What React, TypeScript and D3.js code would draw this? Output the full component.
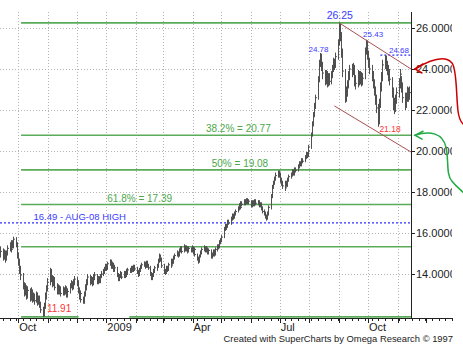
import React from 'react'
import * as d3 from 'd3'

// daily bars, first bar on Fri 2008-09-12, one value per weekday
const firstDay = '2008-09-12'
const lastDay = '2009-11-14'

const highs = [
  15.35,
  15.25, 15.20, 15.15, 15.15, 15.40,
  15.55, 15.50, 15.65, 15.65, 15.82,
  15.80, 15.55, 15.05, 14.75, 14.40,
  14.05, 13.60, 13.55, 13.45, 13.40,
  13.30, 13.35, 13.25, 13.10, 13.05,
  13.15, 13.10, 12.95, 12.95, 12.65,
  12.40, 12.60, 13.10, 13.45, 13.80,
  14.30, 14.25, 13.95, 13.90, 13.85,
  13.50, 13.55, 13.50, 13.45, 13.40,
  13.40, 13.35, 13.45, 13.40, 13.30,
  13.55, 13.70, 13.65, 13.75, 13.90,
  13.85, 13.70, 13.35, 13.20, 13.15,
  12.90, 13.15, 13.50, 13.75, 14.00,
  13.95, 13.90, 13.85, 14.00, 14.10,
  14.00, 13.90, 13.90, 14.00, 14.15,
  14.25, 14.35, 14.50, 14.50, 14.60,
  14.72, 14.70, 14.60, 14.55, 14.45,
  14.35, 14.05, 14.00, 14.15, 14.10,
  14.15, 14.15, 14.25, 14.25, 14.30,
  14.30, 14.40, 14.40, 14.45, 14.45,
  14.35, 14.20, 14.30, 14.45, 14.55,
  14.62, 14.60, 14.65, 14.65, 14.50,
  14.40, 14.10, 14.05, 14.25, 14.40,
  14.50, 14.75, 15.00, 14.95, 14.80,
  14.50, 14.25, 14.40, 14.40, 14.55,
  14.55, 14.75, 14.75, 14.90, 15.00,
  15.15, 15.10, 15.25, 15.35, 15.35,
  15.45, 15.40, 15.40, 15.35, 15.35,
  15.30, 15.40, 15.35, 15.30, 15.25,
  15.00, 14.85, 14.95, 15.15, 15.30,
  15.40, 15.35, 15.35, 15.30, 15.25,
  15.20, 15.05, 15.20, 15.20, 15.30,
  15.45, 15.45, 15.65, 15.75, 15.90,
  16.30, 16.45, 16.45, 16.65, 16.65,
  16.80, 16.95, 16.95, 17.05, 17.15,
  17.30, 17.45, 17.45, 17.55, 17.55,
  17.65, 17.65, 17.70, 17.70, 17.65,
  17.60, 17.60, 17.60, 17.65, 17.65,
  17.60, 17.60, 17.50, 17.50, 17.30,
  17.15, 17.05, 16.90, 17.05, 17.35,
  17.90, 18.35, 18.55, 18.75, 18.95,
  19.05, 19.05, 18.95, 18.70, 18.55,
  18.40, 18.55, 18.55, 18.70, 18.85,
  18.95, 19.10, 19.10, 19.20, 19.20,
  19.35, 19.50, 19.50, 19.65, 19.65,
  19.80, 19.95, 19.95, 20.10, 20.30,
  20.90, 21.45, 21.90, 22.35, 22.75,
  23.65, 24.45, 24.78, 24.75, 24.35,
  23.95, 23.95, 23.90, 23.80, 23.80,
  23.90, 24.20, 24.55, 24.50, 24.80,
  25.45, 26.25, 26.20, 25.80, 25.00,
  24.00, 23.15, 23.45, 23.90, 24.20,
  24.25, 24.30, 24.20, 23.85, 23.70,
  23.95, 23.90, 23.90, 23.85, 23.80,
  25.05, 25.43, 25.40, 24.90, 24.55,
  24.20, 23.90, 23.50, 23.15, 22.75,
  22.30, 22.55, 23.35, 23.85, 24.45,
  24.68, 24.65, 24.40, 24.20, 24.00,
  23.60, 23.10, 22.60, 22.75, 23.10,
  23.55, 24.00, 23.95, 23.65, 23.35,
  22.85, 22.85, 23.15, 23.10, 23.15,
]

const lows = [
  14.80,
  14.65, 14.70, 14.55, 14.65, 14.90,
  15.10, 15.05, 15.10, 15.25, 15.25,
  15.30, 14.75, 14.40, 14.00, 13.70,
  13.25, 12.90, 12.95, 12.75, 12.80,
  12.65, 12.70, 12.60, 12.65, 12.50,
  12.60, 12.45, 12.50, 12.35, 12.10,
  11.91, 11.95, 12.30, 12.75, 13.15,
  13.45, 13.60, 13.35, 13.40, 13.20,
  13.00, 13.05, 13.00, 13.00, 12.90,
  12.95, 12.95, 13.00, 12.85, 12.85,
  13.05, 13.30, 13.20, 13.25, 13.45,
  13.40, 13.05, 12.75, 12.80, 12.60,
  12.55, 12.55, 12.90, 13.20, 13.45,
  13.45, 13.50, 13.40, 13.45, 13.70,
  13.50, 13.50, 13.55, 13.55, 13.80,
  13.90, 14.00, 14.15, 14.15, 14.20,
  14.40, 14.25, 14.25, 14.10, 14.10,
  13.85, 13.65, 13.65, 13.80, 13.75,
  13.80, 13.80, 13.85, 13.90, 13.95,
  14.05, 14.05, 14.10, 14.10, 14.15,
  14.00, 13.85, 13.90, 14.10, 14.25,
  14.35, 14.25, 14.30, 14.30, 14.20,
  13.90, 13.70, 13.70, 13.85, 14.05,
  14.15, 14.30, 14.55, 14.60, 14.30,
  14.00, 13.95, 14.00, 14.10, 14.15,
  14.30, 14.35, 14.45, 14.50, 14.70,
  14.85, 14.80, 14.85, 15.05, 15.00,
  15.05, 15.10, 15.10, 15.00, 15.05,
  15.05, 15.05, 14.95, 15.00, 14.85,
  14.65, 14.50, 14.55, 14.80, 14.95,
  15.10, 15.05, 15.05, 14.95, 14.95,
  14.75, 14.75, 14.85, 14.85, 14.90,
  15.10, 15.20, 15.25, 15.45, 15.55,
  15.75, 16.10, 16.15, 16.25, 16.40,
  16.40, 16.60, 16.65, 16.70, 16.85,
  17.00, 17.10, 17.15, 17.20, 17.30,
  17.35, 17.35, 17.40, 17.40, 17.40,
  17.25, 17.25, 17.30, 17.30, 17.35,
  17.35, 17.25, 17.25, 17.10, 16.95,
  16.85, 16.70, 16.60, 16.65, 16.85,
  17.15, 17.70, 18.15, 18.35, 18.55,
  18.70, 18.70, 18.45, 18.30, 18.15,
  18.05, 18.10, 18.25, 18.25, 18.50,
  18.65, 18.75, 18.80, 18.80, 18.95,
  19.00, 19.15, 19.25, 19.25, 19.40,
  19.45, 19.60, 19.65, 19.70, 19.90,
  20.10, 20.70, 21.20, 21.65, 22.05,
  22.50, 23.35, 24.10, 23.90, 23.50,
  23.20, 23.25, 23.10, 23.15, 23.20,
  23.25, 23.55, 23.85, 23.95, 24.05,
  24.45, 25.15, 25.35, 24.55, 23.60,
  22.35, 22.40, 22.65, 23.05, 23.45,
  23.60, 23.70, 23.35, 23.15, 23.00,
  23.10, 23.20, 23.25, 23.15, 23.20,
  23.50, 24.70, 24.45, 24.05, 23.75,
  23.40, 23.05, 22.70, 22.25, 21.85,
  21.18, 21.30, 22.10, 22.90, 23.40,
  24.00, 23.90, 23.70, 23.40, 23.20,
  22.60, 22.00, 21.80, 21.90, 22.30,
  22.60, 23.05, 23.15, 22.85, 22.35,
  22.00, 22.10, 22.40, 22.40, 22.50,
]

const closes = [
  15.10,
  14.80, 15.05, 14.70, 15.00, 15.25,
  15.40, 15.20, 15.55, 15.35, 15.70,
  15.45, 14.90, 14.60, 14.20, 13.95,
  13.40, 13.10, 13.35, 12.95, 13.20,
  12.85, 13.15, 12.80, 12.95, 12.70,
  12.95, 12.65, 12.80, 12.50, 12.25,
  11.95, 12.45, 12.90, 13.30, 13.60,
  14.15, 13.80, 13.55, 13.70, 13.35,
  13.20, 13.40, 13.15, 13.30, 13.05,
  13.25, 13.10, 13.30, 12.95, 13.15,
  13.40, 13.55, 13.35, 13.60, 13.75,
  13.55, 13.20, 12.90, 13.05, 12.75,
  12.60, 13.00, 13.35, 13.60, 13.85,
  13.60, 13.75, 13.55, 13.85, 13.95,
  13.60, 13.80, 13.65, 13.90, 14.00,
  14.10, 14.25, 14.40, 14.30, 14.50,
  14.60, 14.35, 14.50, 14.20, 14.30,
  13.95, 13.75, 13.90, 14.05, 13.85,
  14.05, 13.90, 14.15, 14.00, 14.20,
  14.15, 14.30, 14.20, 14.35, 14.25,
  14.10, 13.95, 14.20, 14.35, 14.45,
  14.50, 14.35, 14.55, 14.40, 14.30,
  14.00, 13.80, 13.95, 14.15, 14.30,
  14.40, 14.65, 14.90, 14.70, 14.40,
  14.15, 14.05, 14.30, 14.20, 14.45,
  14.40, 14.65, 14.55, 14.80, 14.90,
  15.05, 14.90, 15.15, 15.25, 15.10,
  15.35, 15.20, 15.30, 15.10, 15.25,
  15.15, 15.30, 15.05, 15.20, 14.95,
  14.75, 14.60, 14.85, 15.05, 15.20,
  15.30, 15.15, 15.25, 15.05, 15.15,
  14.85, 14.95, 15.10, 14.95, 15.20,
  15.35, 15.30, 15.55, 15.65, 15.80,
  16.20, 16.35, 16.30, 16.55, 16.50,
  16.70, 16.85, 16.75, 16.95, 17.05,
  17.20, 17.35, 17.25, 17.45, 17.40,
  17.55, 17.45, 17.60, 17.50, 17.55,
  17.35, 17.50, 17.40, 17.55, 17.45,
  17.50, 17.35, 17.40, 17.20, 17.05,
  16.95, 16.80, 16.70, 16.95, 17.25,
  17.80, 18.25, 18.45, 18.65, 18.80,
  18.95, 18.85, 18.55, 18.40, 18.30,
  18.20, 18.45, 18.35, 18.60, 18.75,
  18.85, 19.00, 18.90, 19.10, 19.05,
  19.25, 19.40, 19.35, 19.55, 19.50,
  19.70, 19.85, 19.75, 20.00, 20.20,
  20.80, 21.30, 21.75, 22.20, 22.60,
  23.50, 24.30, 24.70, 24.20, 23.80,
  23.45, 23.75, 23.30, 23.60, 23.40,
  23.70, 24.00, 24.35, 24.20, 24.60,
  25.30, 26.10, 25.60, 24.80, 23.90,
  22.60, 22.85, 23.25, 23.70, 24.00,
  23.90, 24.05, 23.60, 23.45, 23.30,
  23.70, 23.50, 23.65, 23.40, 23.55,
  24.90, 25.30, 24.70, 24.30, 24.00,
  23.70, 23.30, 22.95, 22.50, 22.10,
  21.40, 22.30, 23.10, 23.60, 24.20,
  24.55, 24.20, 24.00, 23.70, 23.50,
  22.90, 22.30, 22.05, 22.50, 22.85,
  23.30, 23.75, 23.40, 23.10, 22.60,
  22.35, 22.60, 22.90, 22.70, 22.85,
]

const priceTicks = [14, 16, 18, 20, 22, 24, 26]
const monthLabelDates = ['2008-10-01', '2009-01-01', '2009-04-01', '2009-07-01', '2009-10-01']
const monthLabelTexts = ['Oct', '2009', 'Apr', 'Jul', 'Oct']

// green support / resistance and fibonacci levels
const levelValues = [26.25, 20.77, 19.08, 17.39, 15.33]
const levelStart = '2008-10-04'
const lowLevel = 11.91
const lowLevelSegments = [['2008-10-04', '2008-12-03'], ['2009-01-25', '2009-11-15']]

const fibTexts = ['38.2% = 20.77', '50% = 19.08', '61.8% = 17.39']
const fibValues = [20.77, 19.08, 17.39]
const fibDates = ['2009-04-15', '2009-04-21', '2009-01-02']

const augHigh = 16.49
const augHighText = '16.49 - AUG-08 HIGH'
const augHighTextDate = '2008-10-17'
const recentHigh = 24.68
const recentHighFrom = '2009-10-14'

// price callouts: text, date, value, dy, colour, size
const callouts: [string, string, number, number, string, number][] = [
  ['26.25', '2009-08-19', 26.25, -4, '#3a3aff', 10.5],
  ['25.43', '2009-09-26', 25.43, -3, '#3a3aff', 8],
  ['24.78', '2009-07-31', 24.78, -1.5, '#3a3aff', 8],
  ['24.68', '2009-10-23', 24.68, -2, '#3a3aff', 8],
  ['21.18', '2009-10-13', 21.18, 5, '#ff3333', 8.5],
  ['11.91', '2008-10-31', 11.91, -5, '#ff3333', 10],
]

// falling channel, [date, value] end points
const channelUpper: [string, number][] = [['2009-09-01', 26.25], ['2009-11-15', 24.0]]
const channelLower: [string, number][] = [['2009-08-27', 22.2], ['2009-11-15', 19.95]]

const arrowTargets = [24.0, 20.77]

const parse = d3.utcParse('%Y-%m-%d')
const FONT = '"Liberation Sans", Arial, sans-serif'

export default function App() {
  const plotRight = 411
  const plotTop = 12
  const axisY = 318

  const x = d3.scaleUtc().domain([parse('2008-09-12')!, parse('2009-11-15')!]).range([0, plotRight])
  const y = d3.scaleLinear().domain([14, 26]).range([274, 28])

  const days = d3.utcDay.range(parse(firstDay)!, parse(lastDay)!).filter(d => d.getUTCDay() % 6 !== 0)
  const bars = highs.map((h, i) => ({ date: days[i], high: h, low: lows[i], close: closes[i] }))

  const months = d3.utcMonth.range(parse('2008-10-01')!, parse('2009-12-01')!)
  const axisEnd = 453
  const weekTicks = d3.utcMonday.range(parse('2008-09-15')!, parse('2010-01-01')!).filter(d => x(d) <= axisEnd)
  const monthTicks = d3.utcMonth.range(parse('2008-10-01')!, parse('2010-01-01')!).filter(d => x(d) <= axisEnd)
  const fmt = d3.format('.5f')

  const chLine = d3.line<[string, number]>().x(d => x(parse(d[0])!)).y(d => y(d[1]))

  return (
    <div style={{ position: 'absolute', left: 0, top: 0 }}>
      <svg width={463} height={353} style={{ display: 'block', background: '#fff' }} fontFamily={FONT}>
        <defs>
          <clipPath id="plotClip"><rect x={0} y={plotTop} width={plotRight} height={axisY - plotTop} /></clipPath>
          <clipPath id="labelClip"><rect x={plotRight} y={0} width={452 - plotRight} height={353} /></clipPath>
        </defs>

        {/* grid */}
        <g stroke="#b4b4b4" strokeWidth={1} strokeDasharray="1 2">
          {priceTicks.map(v => (
            <line key={v} x1={0} x2={plotRight} y1={Math.round(y(v)) + 0.5} y2={Math.round(y(v)) + 0.5} />
          ))}
          {months.map(m => (
            <line key={+m} x1={Math.round(x(m)) + 0.5} x2={Math.round(x(m)) + 0.5} y1={plotTop} y2={axisY} />
          ))}
        </g>

        <g clipPath="url(#plotClip)">
          {/* level lines */}
          <g stroke="#5aac5a" strokeWidth={1.6}>
            {levelValues.map(v => (
              <line key={v} x1={x(parse(levelStart)!)} x2={plotRight} y1={y(v)} y2={y(v)} />
            ))}
            {lowLevelSegments.map(s => (
              <line key={s[0]} x1={x(parse(s[0])!)} x2={x(parse(s[1])!)} y1={y(lowLevel)} y2={y(lowLevel)} />
            ))}
          </g>

          {/* blue dotted highs */}
          <line x1={0} x2={plotRight} y1={y(augHigh)} y2={y(augHigh)} stroke="#3030ff" strokeWidth={1.2} strokeDasharray="2 2" />
          <line x1={x(parse(recentHighFrom)!)} x2={plotRight} y1={y(recentHigh)} y2={y(recentHigh)} stroke="#3030ff" strokeWidth={1.2} strokeDasharray="2 2" />

          {/* price bars */}
          <g stroke="#505050" strokeWidth={1}>
            {bars.map((b, i) => {
              const bx = Math.round(x(b.date)) + 0.5
              return (
                <g key={i}>
                  <line x1={bx} x2={bx} y1={y(b.high)} y2={y(b.low)} />
                  <line x1={bx} x2={bx + 1.5} y1={y(b.close)} y2={y(b.close)} />
                </g>
              )
            })}
          </g>

          {/* channel */}
          <g stroke="#a85050" strokeWidth={1} fill="none">
            <path d={chLine(channelUpper)!} />
            <path d={chLine(channelLower)!} />
          </g>
        </g>

        {/* level texts */}
        {fibTexts.map((t, i) => (
          <text key={t} x={x(parse(fibDates[i])!)} y={y(fibValues[i]) - 3} fontSize={10} fill="#4aa84a">{t}</text>
        ))}
        <text x={x(parse(augHighTextDate)!)} y={y(augHigh) - 3} fontSize={9.5} fill="#3a3aff">{augHighText}</text>

        {callouts.map(c => (
          <text key={c[0]} x={x(parse(c[1])!)} y={y(c[2]) + c[3]} fontSize={c[5]} fill={c[4]}>{c[0]}</text>
        ))}

        {/* right price axis */}
        <line x1={plotRight + 0.5} x2={plotRight + 0.5} y1={plotTop} y2={axisY} stroke="#222" />
        <g clipPath="url(#labelClip)">
          {priceTicks.map(v => (
            <g key={v}>
              <line x1={plotRight} x2={plotRight + 4} y1={Math.round(y(v)) + 0.5} y2={Math.round(y(v)) + 0.5} stroke="#222" />
              <text x={416} y={y(v) + 4} fontSize={11} fill="#222">{fmt(v)}</text>
            </g>
          ))}
        </g>

        {/* bottom time axis */}
        <line x1={0} x2={axisEnd} y1={axisY + 0.5} y2={axisY + 0.5} stroke="#222" />
        <g stroke="#222">
          {weekTicks.map(d => (
            <line key={+d} x1={Math.round(x(d)) + 0.5} x2={Math.round(x(d)) + 0.5} y1={axisY} y2={axisY + 3} />
          ))}
          {monthTicks.map(d => (
            <line key={+d} x1={Math.round(x(d)) + 0.5} x2={Math.round(x(d)) + 0.5} y1={axisY} y2={axisY + 5} />
          ))}
        </g>
        {monthLabelTexts.map((t, i) => (
          <text key={i} x={x(parse(monthLabelDates[i])!) + 1} y={331} fontSize={11} fill="#222">{t}</text>
        ))}
        <text x={453} y={342} fontSize={9.4} fill="#222" textAnchor="end">
          Created with SuperCharts by Omega Research © 1997
        </text>

        {/* pointer arrows */}
        <g fill="none" strokeWidth={1.5} strokeLinecap="round">
          <g transform={`translate(415,${y(arrowTargets[0])})`} stroke="#cc0000">
            <path d="M0,0 C15,-9 30,-14 37,-6 C42,0 41,25 43,42 C44,50 46,53 48,55" />
            <path d="M8,-5 L0,0 L7,4" />
          </g>
          <g transform={`translate(415,${y(arrowTargets[1])})`} stroke="#22aa44">
            <path d="M0,0 C15,-5 28,-2 31,12 C34,26 31,40 37,46 C41,51 45,54 48,57" />
            <path d="M8,-4 L0,0 L7,4" />
          </g>
        </g>
      </svg>
    </div>
  )
}
